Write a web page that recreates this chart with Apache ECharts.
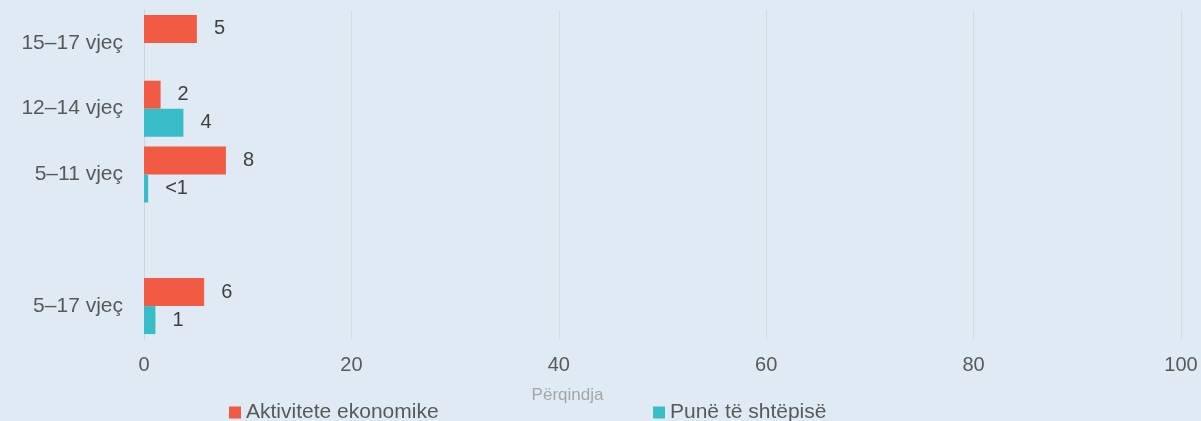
<!DOCTYPE html>
<html>
<head>
<meta charset="utf-8">
<script src="https://cdn.jsdelivr.net/npm/echarts@6/dist/echarts.min.js"></script>
<style>
  html, body { margin: 0; padding: 0; background: #dfeaf5; }
  #chart { width: 1201px; height: 421px; }
</style>
</head>
<body>
<div id="chart"></div>
<script>
// top-to-bottom order as in the picture
const categories = ['15–17 vjeç', '12–14 vjeç', '5–11 vjeç', '', '5–17 vjeç'];
const economic = [5.1, 1.6, 7.9, null, 5.8];
const economicLabels = ['5', '2', '8', '', '6'];
const household = [null, 3.8, 0.4, null, 1.1];
const householdLabels = ['', '4', '<1', '', '1'];
const xTicks = [0, 20, 40, 60, 80, 100];

const font = 'Liberation Sans';
const chart = echarts.init(document.getElementById('chart'));

chart.setOption({
  backgroundColor: '#dfeaf5',
  animation: false,
  textStyle: { fontFamily: font },
  grid: { left: 144, right: 20, top: 10, bottom: 82 },
  legend: [
    {
      data: ['Aktivitete ekonomike'], left: 224, top: 397,
      itemWidth: 12, itemHeight: 12, icon: 'rect', itemGap: 4,
      textStyle: { fontFamily: font, fontSize: 21, color: '#595959' }
    },
    {
      data: ['Punë të shtëpisë'], left: 648, top: 397,
      itemWidth: 12, itemHeight: 12, icon: 'rect', itemGap: 4,
      textStyle: { fontFamily: font, fontSize: 21, color: '#595959' }
    }
  ],
  xAxis: {
    type: 'value', min: xTicks[0], max: xTicks[xTicks.length - 1], interval: 20,
    name: 'Përqindja', nameLocation: 'middle', nameGap: 48,
    nameTextStyle: { color: '#a6a6a6', fontSize: 17, padding: [0, 190, 0, 0] },
    axisLine: { show: false }, axisTick: { show: false },
    axisLabel: { color: '#595959', fontSize: 20, margin: 16 },
    splitLine: { lineStyle: { color: '#d6d9dd', width: 1 } }
  },
  yAxis: {
    type: 'category', data: categories, inverse: true,
    axisLine: { show: true, lineStyle: { color: '#d0d4d8' } },
    axisTick: { show: false },
    axisLabel: { color: '#595959', fontSize: 21, margin: 21 }
  },
  series: [
    {
      name: 'Aktivitete ekonomike', type: 'bar', data: economic,
      barWidth: 28, barGap: '0%',
      itemStyle: { color: '#f15b43' },
      label: {
        show: true, position: 'right', distance: 17, fontSize: 20, color: '#404040',
        formatter: p => economicLabels[p.dataIndex]
      }
    },
    {
      name: 'Punë të shtëpisë', type: 'bar', data: household,
      barWidth: 28, barGap: '0%',
      itemStyle: { color: '#38bcc8' },
      label: {
        show: true, position: 'right', distance: 17, fontSize: 20, color: '#404040',
        formatter: p => householdLabels[p.dataIndex]
      }
    }
  ]
});
</script>
</body>
</html>
